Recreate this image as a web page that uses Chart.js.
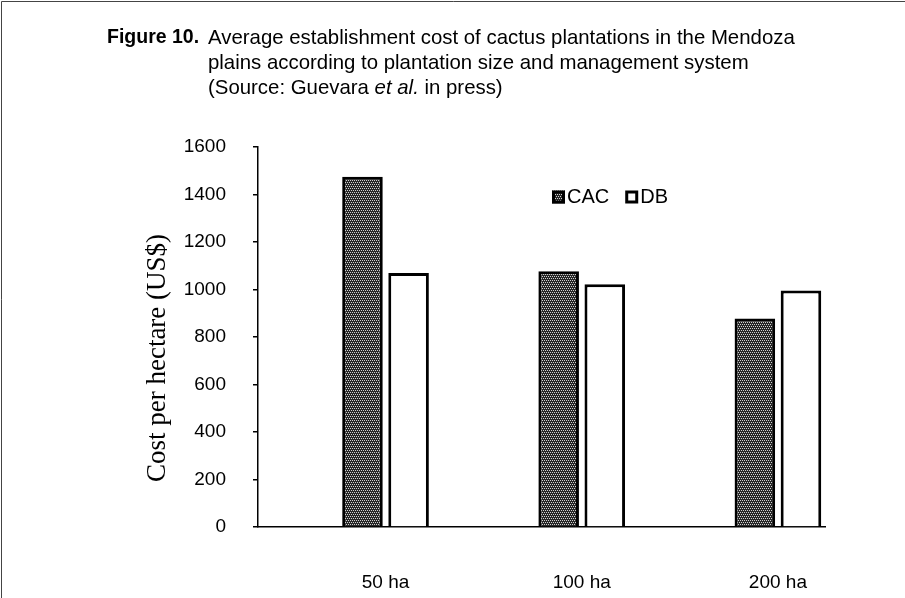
<!DOCTYPE html>
<html>
<head>
<meta charset="utf-8">
<script src="https://cdn.jsdelivr.net/npm/chart.js@4/dist/chart.umd.min.js"></script>
<style>
  html, body { margin: 0; padding: 0; background: #fff; }
  #wrap { width: 905px; height: 598px; position: relative; }
</style>
</head>
<body>
<div id="wrap"><canvas id="c" width="905" height="598"></canvas></div>
<script>
// ---- data ----
const categories = ["50 ha", "100 ha", "200 ha"];
const cacValues = [1475, 1077, 878];
const dbValues = [1070, 1022, 996];
const seriesNames = ["CAC", "DB"];
const yTicks = [0, 200, 400, 600, 800, 1000, 1200, 1400, 1600];
const yTitle = "Cost per hectare (US$)";
const titleBold = "Figure 10.";
const titleLine1 = "Average establishment cost of cactus plantations in the Mendoza";
const titleLine2 = "plains according to plantation size and management system";
const titleLine3a = "(Source: Guevara ";
const titleLine3b = "et al.";
const titleLine3c = " in press)";

// stipple pattern for CAC bars
function makePattern() {
  const p = document.createElement('canvas');
  p.width = 4; p.height = 4;
  const g = p.getContext('2d');
  g.fillStyle = '#262626';
  g.fillRect(0, 0, 4, 4);
  g.fillStyle = '#d0d0d0';
  [[0,0],[2,0],[1,2],[3,2]].forEach(([x,y]) => g.fillRect(x, y, 1, 1));
  return g.createPattern(p, 'repeat');
}
const cacFill = makePattern();

const FONT = "'Liberation Sans', Arial, sans-serif";
const SERIF = "'Liberation Serif', 'Times New Roman', serif";
const TITLE_SIZE = "20.4px ";

const framePlugin = {
  id: 'frame',
  beforeDraw(chart) {
    const ctx = chart.ctx;
    ctx.save();
    ctx.fillStyle = '#fff';
    ctx.fillRect(0, 0, chart.width, chart.height);
    ctx.strokeStyle = '#444';
    ctx.lineWidth = 1;
    ctx.beginPath();
    ctx.moveTo(1.5, chart.height);
    ctx.lineTo(1.5, 1.5);
    ctx.lineTo(chart.width, 1.5);
    ctx.stroke();
    // title
    ctx.fillStyle = '#000';
    ctx.textBaseline = 'middle';
    ctx.textAlign = 'left';
    ctx.font = "bold 19.5px " + FONT;
    ctx.fillText(titleBold, 107, 38);
    ctx.font = TITLE_SIZE + FONT;
    ctx.fillText(titleLine1, 208, 38);
    ctx.fillText(titleLine2, 208, 63);
    let x = 208;
    ctx.fillText(titleLine3a, x, 88);
    x += ctx.measureText(titleLine3a).width;
    ctx.font = "italic " + TITLE_SIZE + FONT;
    ctx.fillText(titleLine3b, x, 88);
    x += ctx.measureText(titleLine3b).width;
    ctx.font = TITLE_SIZE + FONT;
    ctx.fillText(titleLine3c, x, 88);
    // y axis title
    ctx.save();
    ctx.translate(158, 358);
    ctx.rotate(-Math.PI / 2);
    ctx.textAlign = 'center';
    ctx.font = "27px " + SERIF;
    ctx.fillText(yTitle, 0, 0);
    ctx.restore();
    ctx.restore();
  },
  afterDraw(chart) {
    // legend inside plot
    const ctx = chart.ctx;
    ctx.save();
    ctx.font = "20px " + FONT;
    ctx.textBaseline = 'middle';
    let x = 552;
    const y = 197;
    chart.data.datasets.forEach((ds, i) => {
      ctx.fillStyle = ds.backgroundColor;
      ctx.fillRect(x, y - 6.5, 13, 13);
      ctx.strokeStyle = '#000';
      ctx.lineWidth = 3;
      ctx.strokeRect(x + 1.5, y - 5, 10, 10);
      ctx.fillStyle = '#000';
      ctx.fillText(ds.label, x + 15, y);
      x += 15 + ctx.measureText(ds.label).width + 16;
    });
    ctx.restore();
  }
};

new Chart(document.getElementById('c'), {
  type: 'bar',
  data: {
    datasets: [
      {
        label: seriesNames[0],
        data: cacValues.map((v, i) => ({ x: i + 1, y: v })),
        backgroundColor: cacFill,
        borderColor: '#000',
        borderWidth: 3
      },
      {
        label: seriesNames[1],
        data: dbValues.map((v, i) => ({ x: i + 1, y: v })),
        backgroundColor: '#fff',
        borderColor: '#000',
        borderWidth: 3
      }
    ]
  },
  plugins: [framePlugin],
  options: {
    responsive: false,
    animation: false,
    devicePixelRatio: 1,
    layout: { padding: { left: 0, top: 147, right: 80, bottom: 0 } },
    categoryPercentage: 0.47,
    barPercentage: 0.88,
    plugins: {
      legend: { display: false },
      tooltip: { enabled: false },
      title: { display: false }
    },
    scales: {
      x: {
        type: 'linear',
        offset: false,
        min: 0.35,
        max: 3.24,
        afterBuildTicks(scale) {
          scale.ticks = categories.map((c, i) => ({ value: i + 1 }));
        },
        afterFit(scale) { scale.height = 71; },
        grid: { display: true, offset: false, drawOnChartArea: false, drawTicks: false },
        border: { display: true, color: '#000', width: 1.5 },
        ticks: {
          padding: 44,
          color: '#000',
          font: { family: FONT, size: 19 },
          callback: (v) => categories[v - 1]
        }
      },
      y: {
        min: 0,
        max: 1600,
        afterBuildTicks(scale) {
          scale.ticks = yTicks.map(v => ({ value: v }));
        },
        afterFit(scale) { scale.width = 258; },
        grid: { drawOnChartArea: false, drawTicks: true, tickLength: 5, color: '#000', lineWidth: 1.5 },
        border: { display: true, color: '#000', width: 1.5 },
        ticks: {
          padding: 27,
          color: '#000',
          font: { family: FONT, size: 19 },
          callback: (v) => String(v)
        },
        title: { display: false }
      }
    }
  }
});
</script>
</body>
</html>
